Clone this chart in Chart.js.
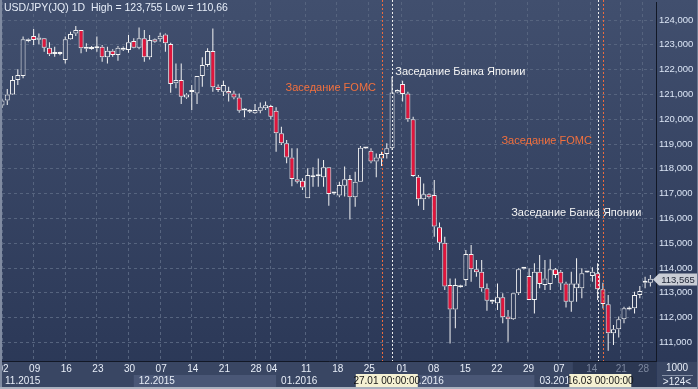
<!DOCTYPE html>
<html>
<head>
<meta charset="utf-8">
<script src="https://cdn.jsdelivr.net/npm/chart.js@4.4.1/dist/chart.umd.min.js"></script>
<style>
  html, body { margin: 0; padding: 0; background: #2f3d5b; overflow: hidden; }
  canvas { display: block; }
</style>
</head>
<body>
<canvas id="chart" width="698" height="389"></canvas>
<script>
// USD/JPY daily candles (incl. short Sunday sessions), 02.11.2015 .. 27.03.2016
const opens = [
  120.55, 120.75, 121.0, 121.58, 121.74, 123.22, 123.35, 123.2, 123.26, 122.88,
  122.63, 122.63, 122.39, 123.22, 123.46, 123.6, 122.84, 122.91, 122.86, 122.92,
  122.5, 122.76, 122.59, 122.8, 122.79, 123.15, 122.88, 123.26, 122.5, 123.22,
  123.22, 123.42, 123.03, 121.45, 121.58, 120.88, 121.1, 121.04, 121.74, 122.19,
  122.75, 121.31, 121.11, 121.14, 121.04, 120.88, 120.35, 120.3, 120.24, 120.34,
  120.44, 120.53, 120.34, 119.43, 119.03, 118.46, 117.58, 117.52, 116.81, 117.66,
  117.7, 117.66, 118.06, 117.0, 116.92, 117.32, 117.59, 116.85, 117.48, 118.82,
  118.73, 118.29, 118.42, 118.6, 118.83, 121.08, 121.42, 121.04, 120.0, 117.68,
  116.77, 116.97, 116.94, 115.64, 115.02, 113.31, 112.33, 113.29, 113.52, 114.56,
  113.95, 113.85, 113.18, 112.64, 112.58, 112.82, 112.04, 111.93, 112.98, 113.99,
  113.68, 112.71, 113.85, 113.31, 113.35, 113.95, 113.85, 113.38, 112.64, 113.18,
  113.18, 113.82, 113.68, 113.79, 113.14, 112.54, 111.37, 111.53, 111.93, 112.33,
  112.38, 112.91, 113.41, 113.41
];
const highs = [
  120.8, 121.22, 121.74, 122.01, 123.33, 123.25, 123.64, 123.46, 123.27, 123.1,
  122.92, 122.72, 123.33, 123.53, 123.755, 123.6, 123.06, 122.95, 123.33, 122.99,
  122.92, 122.82, 122.95, 122.93, 123.4, 123.26, 123.7, 123.6, 123.4, 123.25,
  123.49, 123.46, 123.08, 122.25, 122.25, 121.05, 121.38, 121.74, 122.5, 122.86,
  123.66, 121.4, 121.55, 121.31, 121.15, 121.04, 120.44, 120.4, 120.61, 120.67,
  120.71, 120.57, 120.48, 119.7, 119.16, 118.83, 118.83, 117.62, 118.02, 118.06,
  118.42, 118.35, 118.06, 117.05, 117.48, 118.09, 117.75, 117.88, 118.92, 118.86,
  118.83, 118.62, 118.69, 119.03, 121.71, 121.2, 121.55, 121.11, 120.1, 117.75,
  117.41, 117.0, 117.55, 115.83, 115.26, 113.58, 113.58, 113.32, 114.73, 114.93,
  114.32, 114.32, 113.38, 112.72, 113.38, 112.98, 112.31, 112.98, 113.99, 114.0,
  113.99, 114.19, 114.52, 114.32, 114.35, 114.0, 113.92, 113.45, 113.85, 114.39,
  113.99, 113.87, 114.03, 114.19, 113.41, 112.91, 111.7, 112.04, 112.44, 112.45,
  113.04, 113.27, 113.65, 113.72
];
const lows = [
  120.45, 120.57, 120.98, 121.38, 121.65, 123.1, 122.99, 123.02, 122.72, 122.55,
  122.52, 122.58, 122.25, 123.2, 123.35, 122.66, 122.72, 122.8, 122.72, 122.32,
  122.25, 122.52, 122.36, 122.75, 122.68, 122.86, 122.82, 122.32, 122.41, 123.08,
  123.12, 122.72, 121.07, 121.25, 120.61, 120.82, 120.37, 120.61, 121.31, 122.12,
  121.11, 121.1, 120.94, 120.71, 120.8, 120.26, 120.08, 120.25, 120.21, 120.24,
  120.37, 119.99, 118.69, 118.96, 118.22, 117.3, 117.41, 117.15, 116.81, 117.28,
  117.28, 117.28, 116.51, 116.95, 116.85, 116.88, 115.96, 116.47, 117.48, 118.8,
  118.22, 117.66, 118.11, 118.42, 118.76, 121.05, 120.71, 119.9, 117.68, 116.51,
  116.34, 116.8, 115.26, 114.73, 113.11, 110.96, 111.57, 113.2, 113.27, 113.45,
  113.65, 113.04, 112.28, 112.55, 112.31, 111.77, 111.03, 111.9, 112.91, 113.94,
  112.71, 112.17, 113.18, 113.11, 113.11, 113.6, 113.11, 112.41, 112.24, 112.64,
  112.78, 113.8, 113.45, 112.71, 112.37, 110.66, 110.9, 111.2, 111.77, 112.3,
  112.17, 112.78, 113.18, 113.25
];
const closes = [
  120.75, 121.0, 121.58, 121.78, 123.22, 123.14, 123.19, 123.29, 122.88, 122.62,
  122.66, 122.66, 123.22, 123.44, 123.6, 122.86, 122.92, 122.83, 122.88, 122.5,
  122.76, 122.59, 122.88, 122.88, 123.1, 122.88, 123.26, 122.5, 123.19, 123.12,
  123.37, 123.06, 121.42, 121.58, 120.91, 121.0, 121.12, 121.74, 122.19, 122.75,
  121.29, 121.18, 121.38, 121.04, 120.88, 120.34, 120.36, 120.37, 120.37, 120.48,
  120.56, 120.1, 119.43, 119.03, 118.46, 117.59, 117.48, 117.25, 117.75, 117.72,
  117.71, 118.06, 116.98, 117.01, 117.35, 117.58, 116.85, 117.48, 118.85, 118.84,
  118.29, 118.46, 118.6, 118.83, 121.08, 121.18, 121.02, 120.0, 117.71, 116.77,
  116.97, 116.85, 115.67, 115.02, 113.25, 112.33, 113.31, 113.22, 114.56, 113.95,
  113.83, 113.18, 112.68, 112.68, 112.82, 112.01, 111.93, 112.98, 113.95, 113.97,
  112.71, 113.85, 113.35, 113.58, 113.95, 113.72, 113.38, 112.64, 113.38, 113.38,
  113.79, 113.85, 113.85, 113.14, 112.55, 111.37, 111.53, 111.93, 112.38, 112.4,
  112.91, 113.07, 113.45, 113.565
];

// axis labels
const dayTicks  = [0, 6, 12, 18, 24, 30, 36, 42, 48, 51, 57.5, 63.5, 69.5, 75.7, 81.7, 87.7, 93.7, 99.7, 105.5, 111.7, 117.3, 121.5];
const dayLabels = ['02', '09', '16', '23', '30', '07', '14', '21', '28', '04', '11', '18', '25', '01', '08', '15', '22', '29', '07', '14', '21', '28'];
const monthStarts = [0, 25, 52, 76, 101];
const monthLabels = ['11.2015', '12.2015', '01.2016', '02.2016', '03.2016'];
const priceTicks = [111, 112, 113, 114, 115, 116, 117, 118, 119, 120, 121, 122, 123, 124];

// events
const fomcIdx = [72, 114];
const fomcStamps = ['27.01 00:00:00', '16.03 00:00:00'];
const bojIdx = [74, 113];

const title = 'USD/JPY(JQ) 1D  High = 123,755 Low = 110,66';
const FONT = '"Liberation Sans", Arial, sans-serif';

const canvas = document.getElementById('chart');
const ctx = canvas.getContext('2d');

const bg = ctx.createLinearGradient(0, 0, 0, 389);
bg.addColorStop(0, '#414f6e');
bg.addColorStop(1, '#2a3756');

const idx = opens.map((_, i) => i);
const bodies = idx.map(i => ({ x: i, y: [opens[i], closes[i]] }));
const upperWicks = idx.map(i => ({ x: i, y: [Math.max(opens[i], closes[i]), highs[i]] }));
const lowerWicks = idx.map(i => ({ x: i, y: [lows[i], Math.min(opens[i], closes[i])] }));
const bodyColors = idx.map(i => closes[i] < opens[i] ? '#e0163c' : bg);

function fmt(v, d) { return v.toFixed(d).replace('.', ','); }

const overlay = {
  id: 'overlay',
  beforeDraw(chart) {
    const { ctx: c, scales: { x } } = chart;
    c.save();
    c.fillStyle = bg;
    c.fillRect(0, 0, 698, 389);
    // bottom axis strip
    c.fillStyle = '#394663';
    c.fillRect(0, 362, 656, 27);
    monthStarts.forEach((s, i) => {
      const x0 = i === 0 ? 0 : x.getPixelForValue(s);
      const x1 = i < monthStarts.length - 1 ? x.getPixelForValue(monthStarts[i + 1]) : 656;
      if (i % 2 === 1) {
        c.fillStyle = '#4a5776';
        c.fillRect(x0, 375, x1 - x0, 12);
      }
    });
    const shade = x.getPixelForValue(108.3);
    c.fillStyle = '#2c3853';
    c.fillRect(shade, 362, 656 - shade, 25);
    c.fillStyle = '#394663';
    c.fillRect(657, 362, 41, 27);
    c.restore();
  },
  afterDraw(chart) {
    const { ctx: c, scales: { x, y } } = chart;
    const top = 0, bottom = chart.chartArea.bottom;
    c.save();

    // event lines
    c.lineWidth = 1;
    c.setLineDash([2, 2]);
    fomcIdx.forEach(v => {
      const px = Math.round(x.getPixelForValue(v)) + 0.5;
      c.strokeStyle = '#ee6a3c';
      c.beginPath(); c.moveTo(px, top); c.lineTo(px, bottom); c.stroke();
    });
    bojIdx.forEach(v => {
      const px = Math.round(x.getPixelForValue(v)) + 0.5;
      c.strokeStyle = '#eeeeee';
      c.beginPath(); c.moveTo(px, top); c.lineTo(px, bottom); c.stroke();
    });
    c.setLineDash([]);

    // annotation texts
    c.font = '11px ' + FONT;
    c.textBaseline = 'middle';
    const notes = [
      { t: 'Заседание FOMC', at: 70.95, p: 121.26, align: 'right', col: '#f2703e' },
      { t: 'Заседание Банка Японии', at: 74.6, p: 121.92, align: 'left', col: '#f4f4f4' },
      { t: 'Заседание FOMC', at: 111.9, p: 119.12, align: 'right', col: '#f2703e' },
      { t: 'Заседание Банка Японии', at: 96.6, p: 116.22, align: 'left', col: '#f4f4f4' }
    ];
    notes.forEach(n => {
      c.fillStyle = n.col;
      c.textAlign = n.align;
      c.fillText(n.t, x.getPixelForValue(n.at), y.getPixelForValue(n.p));
    });

    // header
    c.font = '10.5px ' + FONT;
    c.textAlign = 'left';
    c.fillStyle = '#e6edf8';
    c.fillText(title, 4, 8);

    // price axis labels
    c.font = '9.5px ' + FONT;
    c.fillStyle = '#dbe5f5';
    priceTicks.forEach(v => c.fillText(fmt(v, 3), 659, y.getPixelForValue(v)));

    // last price tag
    const last = closes[closes.length - 1];
    const py = Math.round(y.getPixelForValue(last));
    c.fillStyle = '#c9cdd5';
    c.beginPath();
    c.moveTo(653, py + 0.5);
    c.lineTo(659, py - 5.5);
    c.lineTo(697, py - 5.5);
    c.lineTo(697, py + 6.5);
    c.lineTo(659, py + 6.5);
    c.closePath();
    c.fill();
    c.fillStyle = '#232a3a';
    c.textAlign = 'center';
    c.fillText(fmt(last, 3), 678, py + 1);

    // day labels
    c.font = '10px ' + FONT;
    const shade = x.getPixelForValue(108.3);
    dayTicks.forEach((v, i) => {
      const px = x.getPixelForValue(v) + 1;
      c.fillStyle = px > shade ? '#7c879e' : '#e8eef8';
      c.fillText(dayLabels[i], px, 369);
    });

    // month labels
    c.textAlign = 'left';
    c.fillStyle = '#e8eef8';
    monthStarts.forEach((s, i) => {
      const x0 = i === 0 ? 0 : x.getPixelForValue(s);
      c.fillText(monthLabels[i], x0 + 5, 381);
    });

    // crosshair stamps, centred between the paired event lines
    c.font = '10px ' + FONT;
    c.textAlign = 'center';
    fomcIdx.forEach((v, i) => {
      const px = (x.getPixelForValue(v) + x.getPixelForValue(bojIdx[i])) / 2;
      c.fillStyle = '#f5f1d3';
      c.fillRect(px - 31, 374, 62, 13);
      c.fillStyle = '#171717';
      c.fillText(fomcStamps[i], px, 381);
    });

    // bottom right box
    c.fillStyle = '#e8eef8';
    c.font = '10px ' + FONT;
    c.fillText('1000', 677, 368);
    c.strokeStyle = '#8792a8';
    c.beginPath(); c.moveTo(662, 375.5); c.lineTo(693, 375.5); c.stroke();
    c.fillText('>' + opens.length + '<', 677, 382);

    // frame
    c.fillStyle = '#808ba1';
    c.fillRect(0, 0, 2, 389);
    c.fillStyle = '#a9b1bf';
    c.fillRect(0, 387, 698, 2);
    c.fillStyle = '#6f7a90';
    c.fillRect(697, 0, 1, 389);
    c.restore();
  }
};

new Chart(ctx, {
  type: 'bar',
  data: {
    datasets: [
      {
        label: 'body',
        data: bodies,
        backgroundColor: bodyColors,
        borderColor: '#f4f4f4',
        borderWidth: 1,
        borderSkipped: false,
        barThickness: 5,
        minBarLength: 2,
        inflateAmount: 0,
        grouped: false
      },
      {
        label: 'upper',
        data: upperWicks,
        backgroundColor: '#f4f4f4',
        borderWidth: 0,
        barThickness: 1,
        inflateAmount: 0,
        grouped: false
      },
      {
        label: 'lower',
        data: lowerWicks,
        backgroundColor: '#f4f4f4',
        borderWidth: 0,
        barThickness: 1,
        inflateAmount: 0,
        grouped: false
      }
    ]
  },
  options: {
    responsive: false,
    animation: false,
    devicePixelRatio: 1,
    events: [],
    layout: { padding: { left: 2, top: 2, right: 0, bottom: 0 } },
    plugins: { legend: { display: false }, tooltip: { enabled: false } },
    scales: {
      x: {
        type: 'linear',
        offset: false,
        min: 0,
        max: 124.07,
        grid: { color: '#56647f', drawTicks: false, offset: false },
        border: { display: true, color: '#121826', dash: [3, 3] },
        ticks: { display: false },
        afterBuildTicks: s => { s.ticks = dayTicks.map(v => ({ value: v })); },
        afterFit: s => { s.height = 28; }
      },
      y: {
        position: 'right',
        min: 110.25,
        max: 124.726,
        grid: { color: '#56647f', drawTicks: false },
        border: { display: true, color: '#121826', dash: [3, 3] },
        ticks: { display: false },
        afterBuildTicks: s => { s.ticks = priceTicks.map(v => ({ value: v })); },
        afterFit: s => { s.width = 42; }
      }
    }
  },
  plugins: [overlay]
});
</script>
</body>
</html>
